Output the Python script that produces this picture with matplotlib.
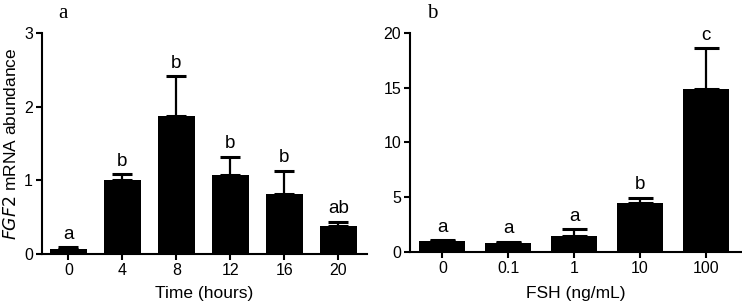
import numpy as np
import matplotlib
matplotlib.use('Agg')
from matplotlib import pyplot as plt

plt.rcParams['font.family'] = ['Liberation Sans', 'DejaVu Sans']

# panel a: time course
time_labels = ['0', '4', '8', '12', '16', '20']
time_mean = [0.07, 1.00, 1.88, 1.07, 0.82, 0.38]
time_err = [0.02, 0.08, 0.53, 0.25, 0.31, 0.06]
time_sig = ['a', 'b', 'b', 'b', 'b', 'ab']

# panel b: FSH dose
fsh_labels = ['0', '0.1', '1', '10', '100']
fsh_mean = [0.98, 0.85, 1.46, 4.48, 14.9]
fsh_err = [0.12, 0.10, 0.61, 0.46, 3.7]
fsh_sig = ['a', 'a', 'a', 'b', 'c']

fig = plt.figure(figsize=(7.42, 3.06), dpi=100)
ax1 = fig.add_axes([0.0566, 0.170, 0.438, 0.722])
ax2 = fig.add_axes([0.5526, 0.1765, 0.446, 0.716])


def panel(ax, labels, mean, err, sig, ymax, yticks, width, cap, pad):
    x = np.arange(len(labels))
    ax.bar(x, mean, width=width, color='black', zorder=2)
    ax.errorbar(x, mean, yerr=[np.zeros(len(err)), err], fmt='none',
                ecolor='black', elinewidth=1.6, capsize=cap, capthick=2.2, zorder=1)
    for xi, m, e, s in zip(x, mean, err, sig):
        ax.text(xi, m + e + pad, s, ha='center', va='bottom', fontsize=13.5)
    ax.set_xlim(-0.49, len(labels) - 1 + 0.53)
    ax.set_ylim(0, ymax)
    ax.set_yticks(yticks)
    ax.set_xticks(x)
    ax.set_xticklabels(labels)
    for sp in ['top', 'right']:
        ax.spines[sp].set_visible(False)
    for sp in ['left', 'bottom']:
        ax.spines[sp].set_linewidth(1.5)
    ax.tick_params(direction='out', length=4.5, width=1.5, labelsize=11.5)
    ax.tick_params(axis='y', pad=2)
    ax.tick_params(axis='x', pad=2)
    ax.spines['bottom'].set_zorder(3)


panel(ax1, time_labels, time_mean, time_err, time_sig, 3, [0, 1, 2, 3], 0.69, 7, 0.06)
ax1.set_xlabel('Time (hours)', fontsize=12.5)
ax1.xaxis.set_label_coords(0.5, -0.145)
ax1.set_ylabel(r'$\it{FGF2}$ mRNA abundance', fontsize=12.5)
ax1.yaxis.set_label_coords(-0.072, 0.5)

panel(ax2, fsh_labels, fsh_mean, fsh_err, fsh_sig, 20, [0, 5, 10, 15, 20], 0.70, 9, 0.4)
ax2.set_xlabel('FSH (ng/mL)', fontsize=12.5)
ax2.xaxis.set_label_coords(0.5, -0.155)

fig.text(63 / 742, 1 - 13 / 306, 'a', family='Liberation Serif', fontsize=15,
         ha='center', va='center')
fig.text(432 / 742, 1 - 13 / 306, 'b', family='Liberation Serif', fontsize=15,
         ha='center', va='center')

fig.savefig('out.png', dpi=100)
